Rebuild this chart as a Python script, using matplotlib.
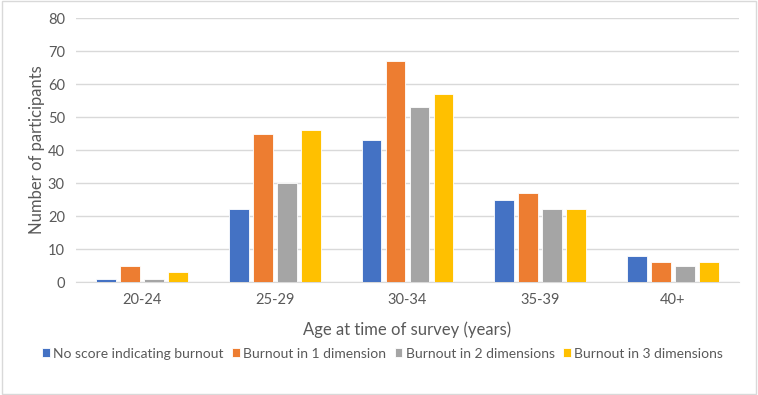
import numpy as np
import matplotlib.pyplot as plt
from matplotlib.patches import Rectangle

plt.rcParams['font.family'] = ['Lato', 'DejaVu Sans']

# data
age_groups = ['20-24', '25-29', '30-34', '35-39', '40+']
no_burnout = [1, 22, 43, 25, 8]
burnout_1 = [5, 45, 67, 27, 6]
burnout_2 = [1, 30, 53, 22, 5]
burnout_3 = [3, 46, 57, 22, 6]

series = [no_burnout, burnout_1, burnout_2, burnout_3]
names = ['No score indicating burnout', 'Burnout in 1 dimension',
         'Burnout in 2 dimensions', 'Burnout in 3 dimensions']
colors = ['#4472C4', '#ED7D31', '#A5A5A5', '#FFC000']

fig = plt.figure(figsize=(7.58, 3.95), dpi=100)
ax = fig.add_axes([0.1003, 0.286, 0.8747, 0.668])

x = np.arange(len(age_groups))
step = 0.181
width = 0.15
for i, (vals, name, c) in enumerate(zip(series, names, colors)):
    ax.bar(x + (i - 1.5) * step, vals, width, color=c, label=name,
           edgecolor='white', linewidth=0.6, zorder=3)

ax.set_xlim(-0.5, len(age_groups) - 0.5)
ax.set_ylim(0, 80)
ax.set_yticks(range(0, 81, 10))
ax.set_xticks(x)
ax.set_xticklabels(age_groups)
ax.grid(axis='y', color='#D9D9D9', linewidth=1, zorder=0)
for s in ['top', 'right', 'left']:
    ax.spines[s].set_visible(False)
ax.spines['bottom'].set_color('#D9D9D9')
ax.tick_params(length=0, colors='#595959', labelsize=10.5, pad=8)
ax.tick_params(axis='y', pad=8)

ax.set_xlabel('Age at time of survey (years)', fontsize=12, color='#595959', labelpad=10)
ax.set_ylabel('Number of participants', fontsize=12, color='#595959', labelpad=2)

fig.legend(loc='center', bbox_to_anchor=(0.505, 0.105), ncol=4, frameon=False,
           fontsize=10, labelcolor='#595959', handlelength=0.55, handleheight=0.55,
           handletextpad=0.25, columnspacing=0.6)

fig.patches.append(Rectangle((0.002, 0.003), 0.996, 0.994, transform=fig.transFigure,
                             fill=False, edgecolor='#D9D9D9', linewidth=1))

fig.savefig('out.png', dpi=100)
